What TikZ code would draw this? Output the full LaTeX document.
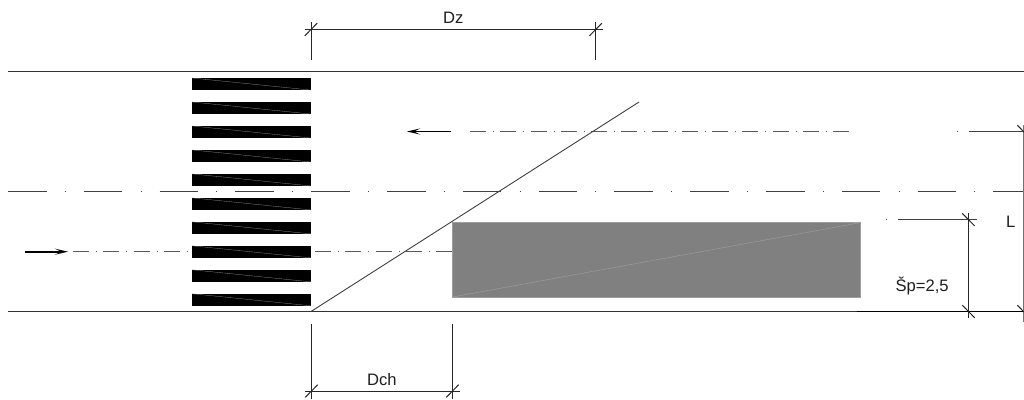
\documentclass[tikz,border=0pt]{standalone}
\usepackage{fontspec}
\setmainfont{Liberation Sans}
\usetikzlibrary{arrows.meta}
\tikzset{
  road/.style={line width=1.05pt,draw=black!80},
  thin line/.style={line width=0.9pt,draw=black!75},
  dimline/.style={line width=1pt,draw=black!85},
  centre/.style={line width=1.05pt,draw=black!75,dash pattern=on 38.5pt off 18.3pt on 0.9pt off 18.1pt},
  lane/.style={line width=1.05pt,draw=black!65,dash pattern=on 16pt off 7pt on 0.9pt off 6.35pt},
  ext/.style={line width=1.05pt,draw=black!75,dash pattern=on 0.9pt off 10.6pt on 78pt off 0pt},
  dir/.style={line width=1.8pt,draw=black,-{Stealth[length=13pt,width=6pt,inset=6pt]}},
  stripe/.style={fill=black},
  stripediag/.style={draw=black!45,line width=0.3pt},
  lab/.style={font=\fontsize{16.6}{18}\selectfont,text=black!88,anchor=base west,inner sep=0pt,outer sep=0pt}
}
\begin{document}
\begin{tikzpicture}[x=1pt,y=-1pt]
\useasboundingbox (0,0) rectangle (1024,399);
\fill[white] (0,0) rectangle (1024,399);
% lane axes and centre line (beneath the stripes)
\draw[centre] (8,191.5) -- (1024,191.5);
\draw[lane] (73,251.7) -- (452.5,251.7);
\draw[lane] (470,131.5) -- (849,131.5);
\draw[ext] (957,131.5) -- (1024,131.5);
\draw[ext] (886,219.7) -- (976,219.7);
% road edges
\draw[road] (8,71.5) -- (1024,71.5);
\draw[road] (8,311.5) -- (1024,311.5);
\draw[line width=1.1pt,draw=black] (857,311.5) -- (1024,311.5);
% zebra crossing
\foreach \k in {0,...,9}{
  \pgfmathsetmacro{\ya}{78.0+23.97*\k}
  \pgfmathsetmacro{\yb}{\ya+12.1}
  \fill[stripe] (192,\ya) rectangle (311,\yb);
  \draw[stripediag] (192,\ya) -- (311,\yb);
}
% parked vehicle
\fill[fill=black!50,draw=black!38,line width=0.5pt] (452.5,222.7) rectangle (860,297);
\draw[draw=black!36,line width=0.35pt] (452.5,297) -- (860,222.7);
% sight line
\draw[thin line] (311,311.5) -- (639,102);
% direction arrows
\coordinate (ua) at (451,131.5); \coordinate (ub) at (407,131.5);
\coordinate (la) at (25,251.7); \coordinate (lb) at (68,251.7);
\draw[dir] (ua) -- (ub);
\draw[dir] (la) -- (lb);
% Dz
\coordinate (dzl) at (311,29.5); \coordinate (dzr) at (595.7,29.5);
\draw[dimline] (304.5,29.5) -- (603,29.5);
\draw[dimline] (311,22) -- (311,60);
\draw[dimline] (595.7,22) -- (595.7,60);
\foreach \p in {dzl,dzr}{\draw[dimline] ([shift={(-6.2,6.3)}]\p) -- ([shift={(6.2,-6.3)}]\p);}
% Dch
\coordinate (dcl) at (311.5,391); \coordinate (dcr) at (452.5,391);
\draw[dimline] (304.5,391) -- (460,391);
\draw[dimline] (311.5,323.5) -- (311.5,399);
\draw[dimline] (452.5,323.5) -- (452.5,399);
\foreach \p in {dcl,dcr}{\draw[dimline] ([shift={(-6.2,6.3)}]\p) -- ([shift={(6.2,-6.3)}]\p);}
% Sp
\coordinate (spt) at (968.5,219.7); \coordinate (spb) at (968.5,311.5);
\draw[dimline] (968.5,213) -- (968.5,318);
\foreach \p in {spt,spb}{\draw[dimline] ([shift={(-6.2,-6.3)}]\p) -- ([shift={(6.2,6.3)}]\p);}
% L
\coordinate (lt) at (1023.5,131.5); \coordinate (lbm) at (1023.5,311.5);
\draw[line width=1pt,draw=black!55] (1023.5,125) -- (1023.5,322);
\foreach \p in {lt,lbm}{\draw[dimline] ([shift={(-6.2,-6.3)}]\p) -- ([shift={(6.2,6.3)}]\p);}
% labels
\node[lab] (tdz) at (443.2,23.3) {Dz};
\node[lab] (tdch) at (367.2,385) {Dch};
\node[lab] (tl) at (1006.2,227.3) {L};
\node[lab] (tsp) at (895.6,291.7) {Šp=2,5};
\end{tikzpicture}
\end{document}
